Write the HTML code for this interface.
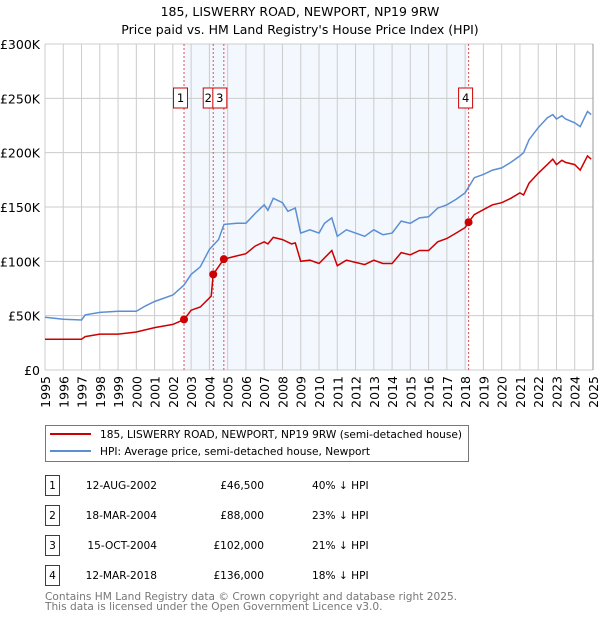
<!DOCTYPE html>
<html><head><meta charset="utf-8"><style>
body{margin:0;background:#fff;font-family:"DejaVu Sans","Liberation Sans",sans-serif;}
svg text{font-family:"DejaVu Sans","Liberation Sans",sans-serif;}
</style></head><body>
<svg id="c" width="600" height="620" viewBox="0 0 600 620" xmlns="http://www.w3.org/2000/svg"></svg>
<script>
const hpiYears=[1995,1996,1997,1997.2,1998,1999,2000,2000.5,2001,2002,2002.6,2003,2003.5,2004,2004.5,2004.8,2005.5,2006,2006.5,2007,2007.2,2007.5,2008,2008.3,2008.7,2009,2009.5,2010,2010.3,2010.7,2011,2011.5,2012,2012.5,2013,2013.5,2014,2014.5,2015,2015.5,2016,2016.5,2017,2017.5,2018,2018.5,2019,2019.5,2020,2020.5,2021,2021.2,2021.5,2022,2022.5,2022.8,2023,2023.3,2023.5,2024,2024.3,2024.7,2024.9];
const hpiValues=[48.6,46.7,46,50.7,53,54,54,59,63,69,78,88,95,111,120,134,135,135,144,152,147,158,154,146,149,126,129,126,135,140,123,129,126,123,129,124.5,126,137,135,140,141,149,152,157,163,177,180,184,186,191,197,200,212,223,232,235,231,234,231,227.5,224,238,235];
const paidYears=[1995,1997,1997.2,1998,1999,2000,2001,2002,2002.62,2003,2003.5,2004.1,2004.21,2004.79,2005.5,2006,2006.5,2007,2007.2,2007.5,2008,2008.5,2008.7,2009,2009.5,2010,2010.7,2011,2011.5,2012,2012.5,2013,2013.5,2014,2014.5,2015,2015.5,2016,2016.5,2017,2017.5,2018,2018.19,2018.5,2019,2019.5,2020,2020.5,2021,2021.2,2021.5,2022,2022.5,2022.8,2023,2023.3,2023.5,2024,2024.3,2024.7,2024.9];
const paidValues=[28.3,28.3,30.7,33,33,35,39,42,46.5,55,58,68,88,102,105,107,114,118,116,122,120,116,117,100,101,98,110,96,101,99,97,101,98,98,108,106,110,110,118,121,126,131,136,143,147.5,152,154,158,163,161,172,181,189,194,189,193,191,189,184,197,194];
const saleLabels=["1","2","3","4"];
const saleYears=[2002.61,2004.21,2004.79,2018.19];
const saleValues=[46.5,88,102,136];
const saleDates=["12-AUG-2002","18-MAR-2004","15-OCT-2004","12-MAR-2018"];
const salePrices=["£46,500","£88,000","£102,000","£136,000"];
const saleHpi=["40% ↓ HPI","23% ↓ HPI","21% ↓ HPI","18% ↓ HPI"];
const yTicks=[0,50,100,150,200,250,300];
const yTickLabels=["£0","£50K","£100K","£150K","£200K","£250K","£300K"];
const xTicks=[];for(let y=1995;y<=2025;y++)xTicks.push(y);

const svg=document.getElementById('c');const NS="http://www.w3.org/2000/svg";
const X0=45,X1=593,Y0=370,Y1=44;
const xs=v=>X0+(v-1995)/30*(X1-X0);
const ys=v=>Y0-v/300*(Y0-Y1);
function mk(t,a,txt){const e=document.createElementNS(NS,t);for(const k in a)e.setAttribute(k,a[k]);if(txt!==undefined)e.textContent=txt;svg.appendChild(e);return e;}
let e;
e=mk('text',{x:300,y:16,'text-anchor':'middle','font-size':12.5});e.textContent="185, LISWERRY ROAD, NEWPORT, NP19 9RW";


e=mk('text',{x:300,y:34,'text-anchor':'middle','font-size':12.5});e.textContent="Price paid vs. HM Land Registry's House Price Index (HPI)";


e=mk('rect',{x:xs(saleYears[0]),y:Y1,width:xs(saleYears[3])-xs(saleYears[0]),height:Y0-Y1,fill:'#f3f7fe'});


yTicks.forEach((v,i)=>{
 e=mk('line',{x1:X0,x2:X1,y1:ys(v),y2:ys(v),stroke:'#cccccc','stroke-width':1});
 
 
 e=mk('text',{x:40,y:ys(v)+5,'text-anchor':'end','font-size':12.5},yTickLabels[i]);
 
 
});
xTicks.forEach(v=>{
 e=mk('line',{x1:xs(v),x2:xs(v),y1:Y1,y2:Y0,stroke:'#cccccc','stroke-width':1});
 
 
 e=mk('text',{x:0,y:0,'text-anchor':'end','font-size':12.5,transform:`translate(${xs(v)+5},376) rotate(-90)`},String(v));
 
 
});
e=mk('line',{x1:X1,x2:X1,y1:Y1,y2:Y0,stroke:'#999','stroke-width':1});


saleYears.forEach((v,i)=>{
 e=mk('line',{x1:xs(v),x2:xs(v),y1:Y1,y2:Y0,stroke:'#e05050','stroke-width':1,'stroke-dasharray':'2,2'});
 
 
});
function path(xa,va,col,name){
 const d=xa.map((x,i)=>(i?'L':'M')+xs(x).toFixed(1)+','+ys(va[i]).toFixed(1)).join('');
 const p=mk('path',{d:d,fill:'none',stroke:col,'stroke-width':1.5});
 
 
}
path(hpiYears,hpiValues,'#5b8fd4','hpi-line');
path(paidYears,paidValues,'#cc0000','price-paid-line');
saleYears.forEach((v,i)=>{
 e=mk('circle',{cx:xs(v),cy:ys(saleValues[i]),r:4,fill:'#cc0000'});
 
 
});
const boxOff=[-3.5,-5,-4,-3];const boxW=[14,10,14,14];
saleYears.forEach((v,i)=>{
 const cx=xs(v)+boxOff[i];
 e=mk('rect',{x:cx-boxW[i]/2,y:88,width:boxW[i],height:20,fill:'#fff',stroke:'#cc0000','stroke-width':1});
 
 
 e=mk('text',{x:cx,y:102,'text-anchor':'middle','font-size':11.5},saleLabels[i]);
 
 
});
e=mk('rect',{x:45.5,y:425.5,width:423,height:36,fill:'#fff',stroke:'#777','stroke-width':1});


e=mk('line',{x1:50,x2:91,y1:434,y2:434,stroke:'#cc0000','stroke-width':2});


e=mk('text',{x:100,y:438,'font-size':10.6},"185, LISWERRY ROAD, NEWPORT, NP19 9RW (semi-detached house)");


e=mk('line',{x1:50,x2:91,y1:451,y2:451,stroke:'#5b8fd4','stroke-width':2});


e=mk('text',{x:100,y:455,'font-size':10.6},"HPI: Average price, semi-detached house, Newport");


saleLabels.forEach((l,i)=>{
 const y=483+i*30;
 e=mk('rect',{x:45.5,y:y-7.5,width:14,height:20,fill:'#fff',stroke:'#cc0000','stroke-width':1});
 
 
 e=mk('text',{x:52.5,y:y+6,'text-anchor':'middle','font-size':10.6},l);
 
 
 e=mk('text',{x:157,y:y+6,'text-anchor':'end','font-size':10.6},saleDates[i]);
 
 
 e=mk('text',{x:264,y:y+6,'text-anchor':'end','font-size':10.6},salePrices[i]);
 
 
 e=mk('text',{x:312,y:y+6,'font-size':10.6},saleHpi[i]);
 
 
});
e=mk('text',{x:45,y:600,'font-size':10.6,fill:'#777'},"Contains HM Land Registry data © Crown copyright and database right 2025.");


e=mk('text',{x:45,y:610,'font-size':10.6,fill:'#777'},"This data is licensed under the Open Government Licence v3.0.");


</script>
</body></html>
